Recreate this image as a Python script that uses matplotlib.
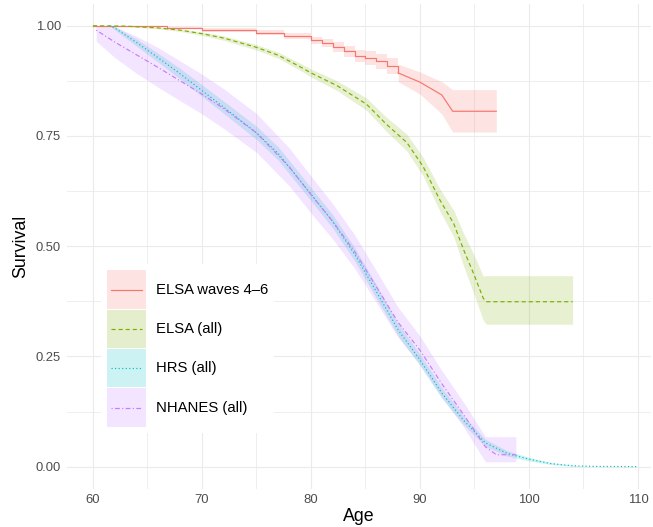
import numpy as np
import matplotlib.pyplot as plt
from matplotlib.lines import Line2D
from matplotlib.patches import Patch, Rectangle
from matplotlib.legend_handler import HandlerBase

plt.rcParams['font.family'] = ['Liberation Sans', 'DejaVu Sans']

labels = ['ELSA waves 4\u20136', 'ELSA (all)', 'HRS (all)', 'NHANES (all)']
colors = ['#F8766D', '#7CAE00', '#00BFC4', '#C77CFF']

# ELSA waves 4-6: stepped part, then straight tail
red_age = [60, 66.8, 70, 75, 77.5, 80, 81, 82, 83, 84, 85, 86, 87, 88]
red_surv = [1.0, 0.995, 0.99, 0.984, 0.977, 0.967, 0.960, 0.951, 0.942, 0.931, 0.927, 0.919, 0.908, 0.893]
red_lo = [1.0, 0.992, 0.986, 0.978, 0.970, 0.959, 0.951, 0.940, 0.930, 0.917, 0.912, 0.903, 0.890, 0.873]
red_hi = [1.0, 0.998, 0.994, 0.990, 0.984, 0.975, 0.969, 0.962, 0.954, 0.945, 0.942, 0.935, 0.926, 0.913]
red_tail_age = [88, 90, 92, 93, 97]
red_tail_surv = [0.893, 0.872, 0.843, 0.806, 0.806]
red_tail_lo = [0.873, 0.845, 0.800, 0.759, 0.759]
red_tail_hi = [0.913, 0.895, 0.873, 0.855, 0.855]

# ELSA (all)
green_age = [60, 63, 66, 68, 70, 72, 75, 77, 79, 80, 82.4, 85.1, 86.9, 88.8, 90.3, 91.8, 93.1, 94.0, 94.9, 95.8, 96.1, 104]
green_surv = [1.0, 0.999, 0.995, 0.99, 0.982, 0.972, 0.951, 0.933, 0.907, 0.893, 0.864, 0.822, 0.777, 0.735, 0.68, 0.606, 0.551, 0.492, 0.439, 0.382, 0.374, 0.374]
green_lo = [1.0, 0.998, 0.993, 0.987, 0.978, 0.967, 0.945, 0.926, 0.899, 0.884, 0.853, 0.808, 0.761, 0.716, 0.659, 0.581, 0.521, 0.455, 0.395, 0.332, 0.323, 0.323]
green_hi = [1.0, 1.0, 0.997, 0.993, 0.986, 0.977, 0.957, 0.940, 0.915, 0.902, 0.875, 0.836, 0.793, 0.754, 0.701, 0.631, 0.581, 0.529, 0.483, 0.432, 0.433, 0.433]

# HRS (all)
cyan_age = [61.5, 62, 64, 66, 68, 70, 72, 75, 77, 80, 82, 84, 86, 88, 90, 92, 94, 96, 98, 100, 102, 104, 106, 110]
cyan_surv = [1.0, 0.995, 0.962, 0.927, 0.891, 0.853, 0.815, 0.757, 0.71, 0.618, 0.556, 0.482, 0.397, 0.31, 0.242, 0.167, 0.105, 0.054, 0.03, 0.017, 0.007, 0.002, 0.0005, 0.0]
cyan_hw = [0, 0.004, 0.008, 0.01, 0.012, 0.013, 0.014, 0.015, 0.015, 0.015, 0.015, 0.015, 0.015, 0.014, 0.013, 0.012, 0.01, 0.008, 0.006, 0.004, 0.002, 0.001, 0, 0]

# NHANES (all)
purple_age = [60.3, 62, 64, 66, 68, 70, 72, 75, 78, 80, 82, 84, 86, 88, 90, 92, 94, 96, 97, 98.8]
purple_surv = [0.99, 0.963, 0.934, 0.905, 0.875, 0.845, 0.812, 0.757, 0.68, 0.617, 0.556, 0.488, 0.408, 0.327, 0.264, 0.188, 0.118, 0.045, 0.027, 0.027]
purple_lo = [0.965, 0.928, 0.892, 0.86, 0.83, 0.80, 0.767, 0.713, 0.637, 0.575, 0.516, 0.45, 0.372, 0.293, 0.232, 0.158, 0.09, 0.011, 0.011, 0.011]
purple_hi = [1.0, 0.998, 0.976, 0.95, 0.92, 0.89, 0.857, 0.801, 0.723, 0.659, 0.596, 0.526, 0.444, 0.361, 0.296, 0.218, 0.146, 0.068, 0.068, 0.068]

styles = ['-', (0, (3.5, 2.5)), (0, (1, 2)), (0, (1, 2, 4, 2))]
lw = 0.85
fill_alpha = 0.2


class KeyHandler(HandlerBase):
    # filled square with the line across its middle, like a ggplot key
    def create_artists(self, legend, orig_handle, xdescent, ydescent,
                       width, height, fontsize, trans):
        patch, line = orig_handle
        rect = Rectangle((-xdescent, -ydescent), width, height,
                         facecolor=patch.get_facecolor(), edgecolor='none',
                         transform=trans)
        ymid = -ydescent + height / 2
        x0 = -xdescent + 0.1 * width
        x1 = -xdescent + 0.9 * width
        ln = Line2D([x0, x1], [ymid, ymid])
        ln.update_from(line)
        ln.set_transform(trans)
        return [rect, ln]


fig = plt.figure(figsize=(6.53, 5.27), dpi=100)
ax = fig.add_axes([0.1021, 0.0727, 0.8948, 0.9203])

# ribbons
ax.fill_between(red_age + [88], red_lo + [red_lo[-1]], red_hi + [red_hi[-1]], step='post',
                color=colors[0], alpha=fill_alpha, lw=0)
ax.fill_between(red_tail_age, red_tail_lo, red_tail_hi, color=colors[0], alpha=fill_alpha, lw=0)
ax.fill_between(green_age, green_lo, green_hi, color=colors[1], alpha=0.18, lw=0)
cs = np.array(cyan_surv)
ch = np.array(cyan_hw)
ax.fill_between(cyan_age, cs - ch, cs + ch, color=colors[2], alpha=fill_alpha, lw=0)
ax.fill_between(purple_age, purple_lo, purple_hi, color=colors[3], alpha=fill_alpha, lw=0)

# lines
ax.step(red_age, red_surv, where='post', color=colors[0], lw=lw, ls=styles[0])
ax.plot(red_tail_age, red_tail_surv, color=colors[0], lw=lw, ls=styles[0])
ax.plot(green_age, green_surv, color=colors[1], lw=lw, ls=styles[1])
ax.plot(cyan_age, cyan_surv, color=colors[2], lw=lw, ls=styles[2])
ax.plot(purple_age, purple_surv, color=colors[3], lw=lw, ls=styles[3])

ax.set_xlim(57.59, 111.19)
ax.set_ylim(-0.05, 1.05)
ax.set_xticks([60, 70, 80, 90, 100, 110])
ax.set_xticks([65, 75, 85, 95, 105], minor=True)
ax.set_yticks([0, 0.25, 0.5, 0.75, 1.0])
ax.set_yticklabels(['0.00', '0.25', '0.50', '0.75', '1.00'])
ax.set_yticks([0.125, 0.375, 0.625, 0.875], minor=True)
ax.grid(which='major', color='#EBEBEB', lw=0.8)
ax.grid(which='minor', color='#EBEBEB', lw=0.6)
ax.set_axisbelow(True)
for s in ax.spines.values():
    s.set_visible(False)
ax.tick_params(which='both', length=0, labelsize=9.4, labelcolor='#4D4D4D')
ax.tick_params(axis='y', pad=4)
ax.tick_params(axis='x', pad=3.5)
ax.set_xlabel('Age', fontsize=12.8, labelpad=2)
ax.set_ylabel('Survival', fontsize=12.8, labelpad=5)

handles = []
for c, ls in zip(colors, styles):
    handles.append((Patch(facecolor=c, alpha=fill_alpha, edgecolor='none'),
                    Line2D([], [], color=c, ls=ls, lw=lw)))
ax.legend(handles, labels, handler_map={tuple: KeyHandler()},
          loc='upper left', bbox_to_anchor=(94 / 653, 1 - 257 / 527),
          bbox_transform=fig.transFigure, frameon=True, facecolor='white',
          edgecolor='none', framealpha=1, fancybox=False,
          handlelength=2.62, handleheight=3.59, labelspacing=0.07,
          handletextpad=0.67, borderpad=0.4, fontsize=10.7)

fig.savefig('out.png', dpi=100)
